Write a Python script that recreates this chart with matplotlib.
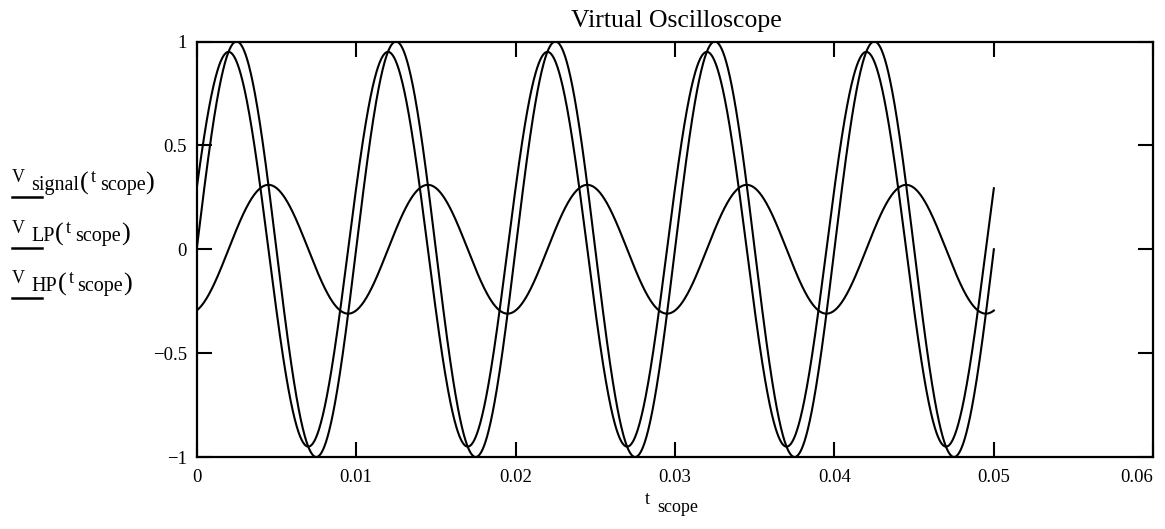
import matplotlib
matplotlib.use('Agg')
import matplotlib.pyplot as plt
import numpy as np

plt.rcParams['font.family'] = ['Liberation Serif', 'DejaVu Serif']

# Kurven-Parameter (100 Hz, 5 Perioden)
names = ["signal", "LP", "HP"]
amplitudes = [1.0, 0.31, 0.95]
phases_deg = [0.0, -72.0, 18.0]
freq_hz = 100.0
t_stop = 0.05

x_ticks = [0, 0.01, 0.02, 0.03, 0.04, 0.05, 0.06]
x_ticklabels = ["0", "0.01", "0.02", "0.03", "0.04", "0.05", "0.06"]
y_ticks = [-1, -0.5, 0, 0.5, 1]
y_ticklabels = ["\u22121", "\u22120.5", "0", "0.5", "1"]

W, H = 1165, 529
fig = plt.figure(figsize=(W / 100, H / 100), dpi=100)
ax = fig.add_axes([196.7 / W, 1 - 457 / H, (1153.3 - 196.7) / W, (457 - 41.5) / H])

t = np.linspace(0, t_stop, 2000)
for a, ph in zip(amplitudes, phases_deg):
    ax.plot(t, a * np.sin(2 * np.pi * freq_hz * t + np.deg2rad(ph)),
            color="black", lw=1.5)

ax.set_xlim(0, 0.06)
ax.set_ylim(-1, 1)
ax.set_xticks(x_ticks)
ax.set_xticklabels(x_ticklabels)
ax.set_yticks(y_ticks)
ax.set_yticklabels(y_ticklabels)
ax.tick_params(direction="in", length=11, width=1.5, labelsize=13.5,
               top=True, right=True)
ax.tick_params(axis="x", pad=9)
ax.tick_params(axis="y", pad=7)
ax.get_xticklabels()[-1].set_ha("right")
for s in ax.spines.values():
    s.set_linewidth(1.6)


def px(x, y):
    return x / W, 1 - y / H


# Titel und Achsenbeschriftung (Mathcad-Stil)
fig.text(*px(676, 27), "Virtual Oscilloscope", ha="center",
         va="baseline", fontsize=18.5)
fig.text(*px(645, 504), "t", fontsize=13, va="baseline")
fig.text(*px(657, 512), "scope", fontsize=13, va="baseline")

renderer = fig.canvas.get_renderer()


def put(x, y, s, size):
    txt = fig.text(*px(x, y), s, fontsize=size, va="baseline")
    bb = txt.get_window_extent(renderer)
    return x + bb.width


# Legende links: V_name(t_scope) mit Linienmuster darunter
row_base = [182, 233, 283]
for name, base in zip(names, row_base):
    x = put(12, base, "V", 13) + 6
    x = put(x, base + 8, name, 14.5) + 1
    x = put(x, base + 8, "(", 19) + 2
    x = put(x, base, "t", 13) + 4
    x = put(x, base + 8, "scope", 14.5)
    put(x, base + 8, ")", 19)
    fig.add_artist(plt.Line2D([12 / W, 42 / W], [1 - (base + 15) / H] * 2,
                              color="black", lw=1.8))

fig.savefig("out.png", dpi=100)
